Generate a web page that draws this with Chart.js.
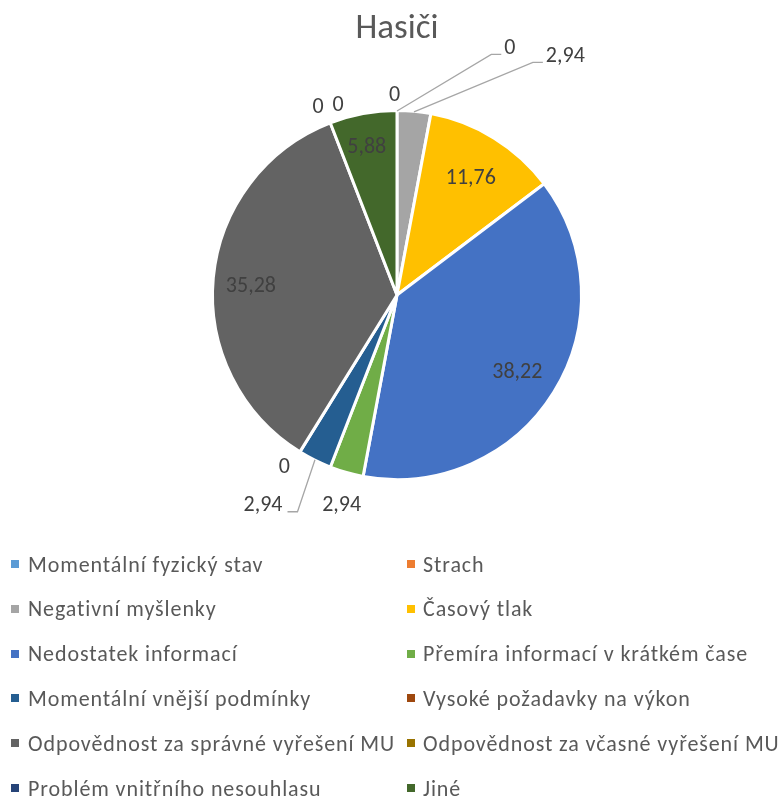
<!DOCTYPE html>
<html><head><meta charset="utf-8">
<script src="https://cdn.jsdelivr.net/npm/chart.js@4/dist/chart.umd.min.js"></script>
<style>
html,body{margin:0;padding:0;background:#fff;}
#wrap{position:relative;width:783px;height:798px;overflow:hidden;}
#c{position:absolute;left:0;top:0;}
#legend{position:absolute;left:0;top:0;width:783px;height:798px;font-family:Carlito, Lato, sans-serif;font-size:22px;letter-spacing:0.9px;color:#595959;}
.li{position:absolute;height:30px;display:flex;align-items:center;white-space:nowrap;}
.sw{display:inline-block;width:8px;height:8px;}
</style></head><body>
<div id="wrap"><canvas id="c" width="783" height="530"></canvas><div id="legend"></div></div>
<script>
// ---- data ----
const chartTitle = 'Hasiči';
const categories = [
  'Momentální fyzický stav',
  'Strach',
  'Negativní myšlenky',
  'Časový tlak',
  'Nedostatek informací',
  'Přemíra informací v krátkém čase',
  'Momentální vnější podmínky',
  'Vysoké požadavky na výkon',
  'Odpovědnost za správné vyřešení MU',
  'Odpovědnost za včasné vyřešení MU',
  'Problém vnitřního nesouhlasu',
  'Jiné'
];
const values = [0, 0, 2.94, 11.76, 38.22, 2.94, 2.94, 0, 35.28, 0, 0, 5.88];
const sliceColors = ['#5B9BD5','#ED7D31','#A5A5A5','#FFC000','#4472C4','#70AD47','#255E91','#9E480E','#636363','#997300','#264478','#43682B'];

// ---- label placement (style): radius factor, angle nudge in degrees, leader line ----
const labelPlacement = [
  {r:1.093, da:-0.7, leader:false},
  {r:1.487, da:24.5, leader:true},
  {r:1.60,  da:29.8, leader:true},
  {r:0.76,  da:0.3,  leader:false},
  {r:0.78,  da:0.8,  leader:false},
  {r:1.186, da:-1.1, leader:false},
  {r:1.36,  da:6.1,  leader:true},
  {r:1.12,  da:1.6,  leader:false},
  {r:0.80,  da:-1.7, leader:false},
  {r:1.117, da:-1.5, leader:false},
  {r:1.09,  da:4.0,  leader:false},
  {r:0.83,  da:-0.9, leader:false}
];

const FONT = 'Carlito, Lato, sans-serif';
const fmt = v => String(v).replace('.', ',');

const labelPlugin = {
  id: 'sliceLabels',
  afterDatasetsDraw(chart) {
    const ctx = chart.ctx;
    const meta = chart.getDatasetMeta(0);
    const ds = chart.data.datasets[0];
    ctx.save();
    ctx.font = '22px ' + FONT;
    ctx.fillStyle = '#404040';
    ctx.textBaseline = 'middle';
    ctx.textAlign = 'center';
    meta.data.forEach((arc, i) => {
      const p = arc.getProps(['x','y','startAngle','endAngle','outerRadius'], true);
      const pl = labelPlacement[i];
      const mid = (p.startAngle + p.endAngle) / 2;
      const a = mid + pl.da * Math.PI / 180;
      const R = p.outerRadius - 1.5;
      const lx = p.x + Math.cos(a) * R * pl.r;
      const ly = p.y + Math.sin(a) * R * pl.r + 1;
      const txt = fmt(ds.data[i]);
      if (pl.leader) {
        const w = ctx.measureText(txt).width;
        const right = lx > p.x;
        const edge = right ? lx - w / 2 - 3 : lx + w / 2 + 5;
        const hy = ly + 6;
        const ex = right ? edge - 10 : edge + 10;
        const sx = p.x + Math.cos(mid) * (R + 1);
        const sy = p.y + Math.sin(mid) * (R + 1);
        ctx.beginPath();
        ctx.strokeStyle = '#A6A6A6';
        ctx.lineWidth = 1.3;
        ctx.moveTo(sx, sy);
        ctx.lineTo(ex, hy);
        ctx.lineTo(edge, hy);
        ctx.stroke();
      }
      ctx.fillText(txt, lx, ly);
    });
    ctx.restore();
  }
};

const chart = new Chart(document.getElementById('c'), {
  type: 'pie',
  data: {
    labels: categories,
    datasets: [{
      data: values,
      backgroundColor: sliceColors,
      borderColor: '#ffffff',
      borderWidth: 3
    }]
  },
  options: {
    responsive: false,
    animation: false,
    devicePixelRatio: 1,
    layout: { padding: { left: 11, right: 0, top: 0, bottom: 49 } },
    plugins: {
      legend: { display: false },
      tooltip: { enabled: false },
      title: {
        display: true,
        text: chartTitle,
        color: '#595959',
        font: { family: FONT, size: 35, weight: '300', lineHeight: 1.2 },
        padding: { top: 8, bottom: 59 }
      }
    }
  },
  plugins: [labelPlugin]
});

// ---- legend (HTML, from chart data) ----
const legend = document.getElementById('legend');
chart.data.labels.forEach((lab, i) => {
  const col = i % 2, row = Math.floor(i / 2);
  const cy = 564 + row * 44.8;
  const sw = document.createElement('span');
  sw.className = 'sw';
  sw.style.position = 'absolute';
  sw.style.left = (col ? 407 : 11) + 'px';
  sw.style.top = (cy - 4) + 'px';
  sw.style.background = chart.data.datasets[0].backgroundColor[i];
  legend.appendChild(sw);
  const d = document.createElement('div');
  d.className = 'li';
  d.style.left = (col ? 423 : 28) + 'px';
  d.style.top = (cy - 15) + 'px';
  d.textContent = lab;
  legend.appendChild(d);
});
</script>
</body></html>
